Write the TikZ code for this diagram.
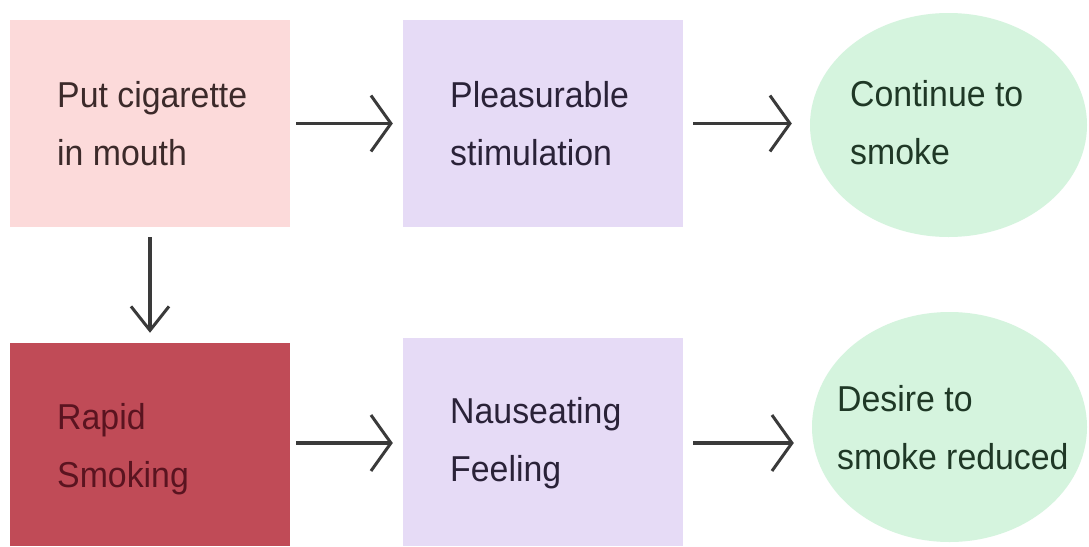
\documentclass[tikz,border=0pt]{standalone}
\usepackage{fontspec}
\setmainfont{Liberation Sans}[FakeStretch=0.94]
\usetikzlibrary{shapes.geometric,arrows.meta}
\definecolor{pinkbox}{HTML}{FCDADA}
\definecolor{lavbox}{HTML}{E6DBF6}
\definecolor{greenell}{HTML}{D5F4DE}
\definecolor{redbox}{HTML}{C04B57}
\definecolor{pinktxt}{HTML}{3C2A2A}
\definecolor{lavtxt}{HTML}{2A2238}
\definecolor{greentxt}{HTML}{1F3826}
\definecolor{redtxt}{HTML}{5A1420}
\definecolor{arrowcol}{HTML}{3A3A3A}
\tikzset{
  boxnode/.style={rectangle, draw=none, inner sep=0pt, minimum width=280pt},
  ellnode/.style={ellipse, draw=none, inner sep=0pt},
  label text/.style={anchor=west, inner sep=0pt, align=left, text depth=0pt,
    font=\fontsize{36}{58}\selectfont},
  flow/.style={draw=arrowcol, line width=3.5pt,
    -{Straight Barb[length=20pt,width=56pt,line width=3pt]}},
  downflow/.style={draw=arrowcol, line width=3.5pt,
    -{Straight Barb[length=24pt,width=38pt,line width=3pt]}},
}
\begin{document}
\begin{tikzpicture}[x=1pt,y=-1pt]
\fill[white] (0,0) rectangle (1089,546);
\useasboundingbox (0,0) rectangle (1089,546);
% shapes
\node[boxnode, fill=pinkbox, minimum height=207pt] (b1) at (150,123.5) {};
\node[boxnode, fill=lavbox, minimum height=207pt] (b2) at (543,123.5) {};
\node[ellnode, fill=greenell, minimum width=277pt, minimum height=224pt] (e1) at (948.5,125) {};
\node[boxnode, fill=redbox, minimum height=203pt] (b4) at (150,444.5) {};
\node[boxnode, fill=lavbox, minimum height=208pt] (b5) at (543,442) {};
\node[ellnode, fill=greenell, minimum width=275pt, minimum height=230pt] (e2) at (949.5,427) {};
% texts
\node[label text, text=pinktxt] (t1) at (57,123.5) {Put cigarette\\in mouth};
\node[label text, text=lavtxt] (t2) at (450,123) {Pleasurable\\stimulation};
\node[label text, text=greentxt] (t3) at (850,122.5) {Continue to\\smoke};
\node[label text, text=redtxt] (t4) at (57,445) {Rapid\\Smoking};
\node[label text, text=lavtxt] (t5) at (450,439) {Nauseating\\Feeling};
\node[label text, text=greentxt] (t6) at (837,427.5) {Desire to\\smoke reduced};
% connectors
\draw[flow, shorten <=6pt, shorten >=10pt] (b1.east) -- (b2.west);
\draw[flow, shorten <=10pt, shorten >=18pt] (b2.east) -- (e1.west |- b2.east);
\draw[downflow, shorten <=10pt, shorten >=10pt] (b1.south) -- (b4.north);
\draw[flow, shorten <=6pt, shorten >=10pt] (b4.east |- 0,443) -- (b5.west |- 0,443);
\draw[flow, shorten <=10pt, shorten >=18pt] (b5.east |- 0,443) -- (e2.west |- 0,443);
\end{tikzpicture}
\end{document}
